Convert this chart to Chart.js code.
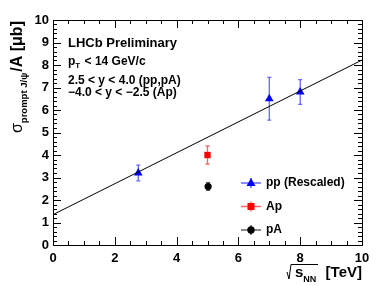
<!DOCTYPE html>
<html>
<head>
<meta charset="utf-8">
<script src="https://cdn.jsdelivr.net/npm/chart.js@4/dist/chart.umd.min.js"></script>
<style>
html,body{margin:0;padding:0;background:#fff;}
#wrap{width:382px;height:286px;}
</style>
</head>
<body>
<div id="wrap"><canvas id="c" width="382" height="286"></canvas></div>
<script>
// ---- data ----
const ppX = [2.76, 7.0, 8.0];
const ppY = [3.2, 6.5, 6.8];
const ppErr = [0.35, 0.95, 0.55];
const apX = [5.0];
const apY = [4.0];
const apErr = [0.4];
const paX = [5.02];
const paY = [2.6];
const paErr = [0.17];
const fitX = [0, 10];
const fitY = [1.35, 8.22];
const xTickValues = [0, 2, 4, 6, 8, 10];
const yTickValues = [0, 1, 2, 3, 4, 5, 6, 7, 8, 9, 10];
const legendLabels = ['pp (Rescaled)', 'Ap', 'pA'];
const infoLines = ['LHCb Preliminary', 'p_T < 14 GeV/c', '2.5 < y < 4.0 (pp,pA)', '\u22124.0 < y < \u22122.5 (Ap)'];

const FONT = '"Liberation Sans", Arial, sans-serif';
const toPts = (xs, ys) => xs.map((x, i) => ({x: x, y: ys[i]}));

const errPlugin = {
  id: 'errbars',
  beforeDatasetsDraw(chart) {
    const ctx = chart.ctx, xs = chart.scales.x, ys = chart.scales.y;
    chart.data.datasets.forEach(ds => {
      if (!ds.errors) return;
      ctx.save();
      ctx.strokeStyle = ds.errColor;
      ctx.lineWidth = 1.3;
      ds.data.forEach((p, i) => {
        const px = xs.getPixelForValue(p.x);
        const y1 = ys.getPixelForValue(p.y + ds.errors[i]);
        const y2 = ys.getPixelForValue(p.y - ds.errors[i]);
        ctx.beginPath();
        ctx.moveTo(px, y1); ctx.lineTo(px, y2);
        ctx.moveTo(px - 2, y1); ctx.lineTo(px + 2, y1);
        ctx.moveTo(px - 2, y2); ctx.lineTo(px + 2, y2);
        ctx.stroke();
      });
      ctx.restore();
    });
  }
};

const decoPlugin = {
  id: 'deco',
  afterDraw(chart) {
    const ctx = chart.ctx, xs = chart.scales.x, ys = chart.scales.y;
    const a = chart.chartArea;
    ctx.save();
    ctx.strokeStyle = '#000';
    ctx.lineWidth = 1;
    // frame
    ctx.strokeRect(Math.round(a.left) + 0.5, Math.round(a.top) + 0.5, Math.round(a.right - a.left), Math.round(a.bottom - a.top));
    // x ticks (bottom & top)
    ctx.beginPath();
    for (let v = 0; v <= 10.001; v += 0.5) {
      const px = Math.round(xs.getPixelForValue(v)) + 0.5;
      const major = Math.abs(v / 2 - Math.round(v / 2)) < 1e-6;
      const L = major ? 8 : 4;
      ctx.moveTo(px, a.bottom); ctx.lineTo(px, a.bottom - L);
      ctx.moveTo(px, a.top); ctx.lineTo(px, a.top + L);
    }
    // y ticks (left & right)
    for (let k = 0; k <= 50; k++) {
      const v = k * 0.2;
      const py = Math.round(ys.getPixelForValue(v)) + 0.5;
      const major = k % 5 === 0;
      const L = major ? 8 : 4;
      ctx.moveTo(a.left, py); ctx.lineTo(a.left + L, py);
      ctx.moveTo(a.right, py); ctx.lineTo(a.right - L, py);
    }
    ctx.stroke();

    ctx.fillStyle = '#000';
    ctx.textBaseline = 'alphabetic';
    ctx.textAlign = 'left';
    // info text
    const tx = 68;
    ctx.font = 'bold 13px ' + FONT;
    ctx.fillText(infoLines[0], tx, 47);
    ctx.font = 'bold 12px ' + FONT;
    ctx.fillText('p', tx, 65);
    let w = ctx.measureText('p').width;
    ctx.font = 'bold 8px ' + FONT;
    ctx.fillText('T', tx + w, 68);
    let w2 = ctx.measureText('T').width;
    ctx.font = 'bold 12px ' + FONT;
    ctx.fillText(infoLines[1].slice(3), tx + w + w2 + 1, 65);
    ctx.fillText(infoLines[2], tx, 84);
    ctx.fillText(infoLines[3], tx, 96);

    // legend
    const cols = ['#0000ff', '#ff0000', '#000000'];
    const errCols = ['rgba(0,0,255,0.6)', 'rgba(255,0,0,0.6)', 'rgba(0,0,0,0.6)'];
    const rowsY = [183, 206.5, 230];
    const lx = 251;
    for (let i = 0; i < 3; i++) {
      const y = rowsY[i];
      ctx.strokeStyle = errCols[i];
      ctx.lineWidth = 1.5;
      ctx.beginPath();
      ctx.moveTo(lx - 10, y); ctx.lineTo(lx + 10, y);
      ctx.moveTo(lx, y - 5); ctx.lineTo(lx, y + 5);
      ctx.stroke();
      ctx.fillStyle = cols[i];
      ctx.beginPath();
      if (i === 0) {
        ctx.moveTo(lx, y - 5); ctx.lineTo(lx + 4.5, y + 3); ctx.lineTo(lx - 4.5, y + 3); ctx.closePath();
      } else if (i === 1) {
        ctx.rect(lx - 3.5, y - 3.5, 7, 7);
      } else {
        ctx.arc(lx, y, 3.7, 0, Math.PI * 2);
      }
      ctx.fill();
      ctx.fillStyle = '#000';
      ctx.font = 'bold 12px ' + FONT;
      ctx.textBaseline = 'middle';
      ctx.fillText(legendLabels[i], 266, y);
    }
    ctx.textBaseline = 'alphabetic';

    // x title: sqrt(s_NN) [TeV]
    ctx.strokeStyle = '#000';
    ctx.lineWidth = 1;
    ctx.beginPath();
    ctx.moveTo(287, 272); ctx.lineTo(289, 279); ctx.lineTo(291, 264.5); ctx.lineTo(318, 264.5);
    ctx.stroke();
    ctx.font = 'bold 15px ' + FONT;
    ctx.fillText('s', 295, 277);
    let ws = ctx.measureText('s').width;
    ctx.font = 'bold 9px ' + FONT;
    ctx.fillText('NN', 295 + ws, 282);
    ctx.font = 'bold 15px ' + FONT;
    ctx.textAlign = 'right';
    ctx.fillText('[TeV]', 362, 277);

    // y title
    ctx.textAlign = 'left';
    ctx.translate(22, 133);
    ctx.rotate(-Math.PI / 2);
    let cx = 0;
    ctx.font = '16px ' + FONT;
    ctx.fillText('\u03c3', cx, 0);
    cx += ctx.measureText('\u03c3').width;
    ctx.font = 'bold 9.5px ' + FONT;
    ctx.fillText('prompt J/\u03c8', cx, 5);
    cx += ctx.measureText('prompt J/\u03c8').width + 1;
    ctx.font = 'bold 16px ' + FONT;
    ctx.fillText('/A [\u03bcb]', cx, 0);
    ctx.restore();
  }
};

const chart = new Chart(document.getElementById('c'), {
  type: 'scatter',
  data: {
    datasets: [
      {
        type: 'line', data: toPts(fitX, fitY), borderColor: '#000', borderWidth: 1,
        pointRadius: 0, fill: false, tension: 0
      },
      {
        label: legendLabels[0], data: toPts(ppX, ppY), errors: ppErr, errColor: 'rgba(0,0,255,0.6)',
        pointStyle: 'triangle', pointRadius: 5, backgroundColor: '#0000ff', borderColor: '#0000ff', borderWidth: 0
      },
      {
        label: legendLabels[1], data: toPts(apX, apY), errors: apErr, errColor: 'rgba(255,0,0,0.6)',
        pointStyle: 'rect', pointRadius: 4.5, backgroundColor: '#ff0000', borderColor: '#ff0000', borderWidth: 0
      },
      {
        label: legendLabels[2], data: toPts(paX, paY), errors: paErr, errColor: 'rgba(0,0,0,0.7)',
        pointStyle: 'circle', pointRadius: 3.6, backgroundColor: '#000', borderColor: '#000', borderWidth: 0
      }
    ]
  },
  options: {
    responsive: false,
    animation: false,
    layout: { padding: { left: 0, right: 20, top: 20, bottom: 0 } },
    plugins: { legend: { display: false }, tooltip: { enabled: false } },
    scales: {
      x: {
        type: 'linear', min: 0, max: 10,
        afterBuildTicks: s => { s.ticks = xTickValues.map(v => ({value: v})); },
        afterFit: s => { s.height = 41; },
        grid: { display: false, drawTicks: false },
        border: { display: false },
        ticks: { color: '#000', font: { family: FONT, size: 13, weight: 'bold' }, padding: 6, maxRotation: 0, autoSkip: false }
      },
      y: {
        type: 'linear', min: 0, max: 10,
        afterBuildTicks: s => { s.ticks = yTickValues.map(v => ({value: v})); },
        afterFit: s => { s.width = 53; },
        grid: { display: false, drawTicks: false },
        border: { display: false },
        ticks: { color: '#000', font: { family: FONT, size: 13, weight: 'bold' }, padding: 4, autoSkip: false }
      }
    }
  },
  plugins: [errPlugin, decoPlugin]
});
</script>
</body>
</html>
